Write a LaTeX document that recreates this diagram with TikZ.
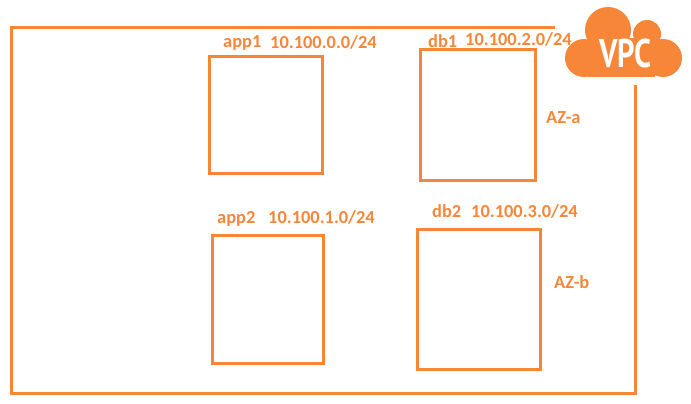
\documentclass[tikz,border=0pt]{standalone}
\usepackage{fontspec}
\setmainfont{Carlito}
\newfontfamily\cloudfont{PT Sans}
\usetikzlibrary{positioning}
\definecolor{vpcorange}{RGB}{247,134,56}
\tikzset{
  subnet/.style={draw=vpcorange, line width=3pt, inner sep=0pt},
  lbl/.style={text=vpcorange, font=\fontsize{18.4}{20}\selectfont\bfseries, inner sep=0pt, anchor=base west},
}
\begin{document}
\begin{tikzpicture}[x=1pt, y=-1pt]
        \useasboundingbox (0,0) rectangle (691,404);

        \coordinate (vpcstart) at (555,28);
        \coordinate (vpcend)   at (635,85);
        \draw[draw=vpcorange, line width=3pt] (vpcstart) -- (11,28) -- (11,393) -- (635,393) -- (vpcend);

        \node[subnet, minimum width=113pt, minimum height=116pt] (app1) at (265.5,115) {};
        \node[subnet, minimum width=115pt, minimum height=130pt] (db1)  at (477.5,115) {};
        \node[subnet, minimum width=111pt, minimum height=128pt] (app2) at (267.5,299) {};
        \node[subnet, minimum width=123pt, minimum height=140pt] (db2)  at (478.5,299) {};

        \node[lbl] (app1label) at (223,48) {app1};
        \node[lbl] (app1net)   at (270,49) {10.100.0.0/24};
        \node[lbl] (db1label)  at (428,48) {db1};
        \node[lbl] (db1net)    at (465,46) {10.100.2.0/24};
        \node[lbl] (app2label) at (217,223) {app2};
        \node[lbl] (app2net)   at (268,223) {10.100.1.0/24};
        \node[lbl] (db2label)  at (432,217) {db2};
        \node[lbl] (db2net)    at (471,217) {10.100.3.0/24};
        \node[lbl] (aza)       at (546,123) {AZ-a};
        \node[lbl] (azb)       at (554,288) {AZ-b};

        % cloud
        \fill[vpcorange] (584,58) circle (19);
        \fill[vpcorange] (608,30) circle (23);
        \fill[vpcorange] (647,34) circle (14);
        \fill[vpcorange] (663,58) circle (19);
        \fill[vpcorange] (588,38) rectangle (655,77);
        \node[text=white, font=\cloudfont\fontsize{40}{42}\selectfont\bfseries, inner sep=0pt, xscale=0.76] (vpc) at (625.5,54) {VPC};
\end{tikzpicture}
\end{document}
